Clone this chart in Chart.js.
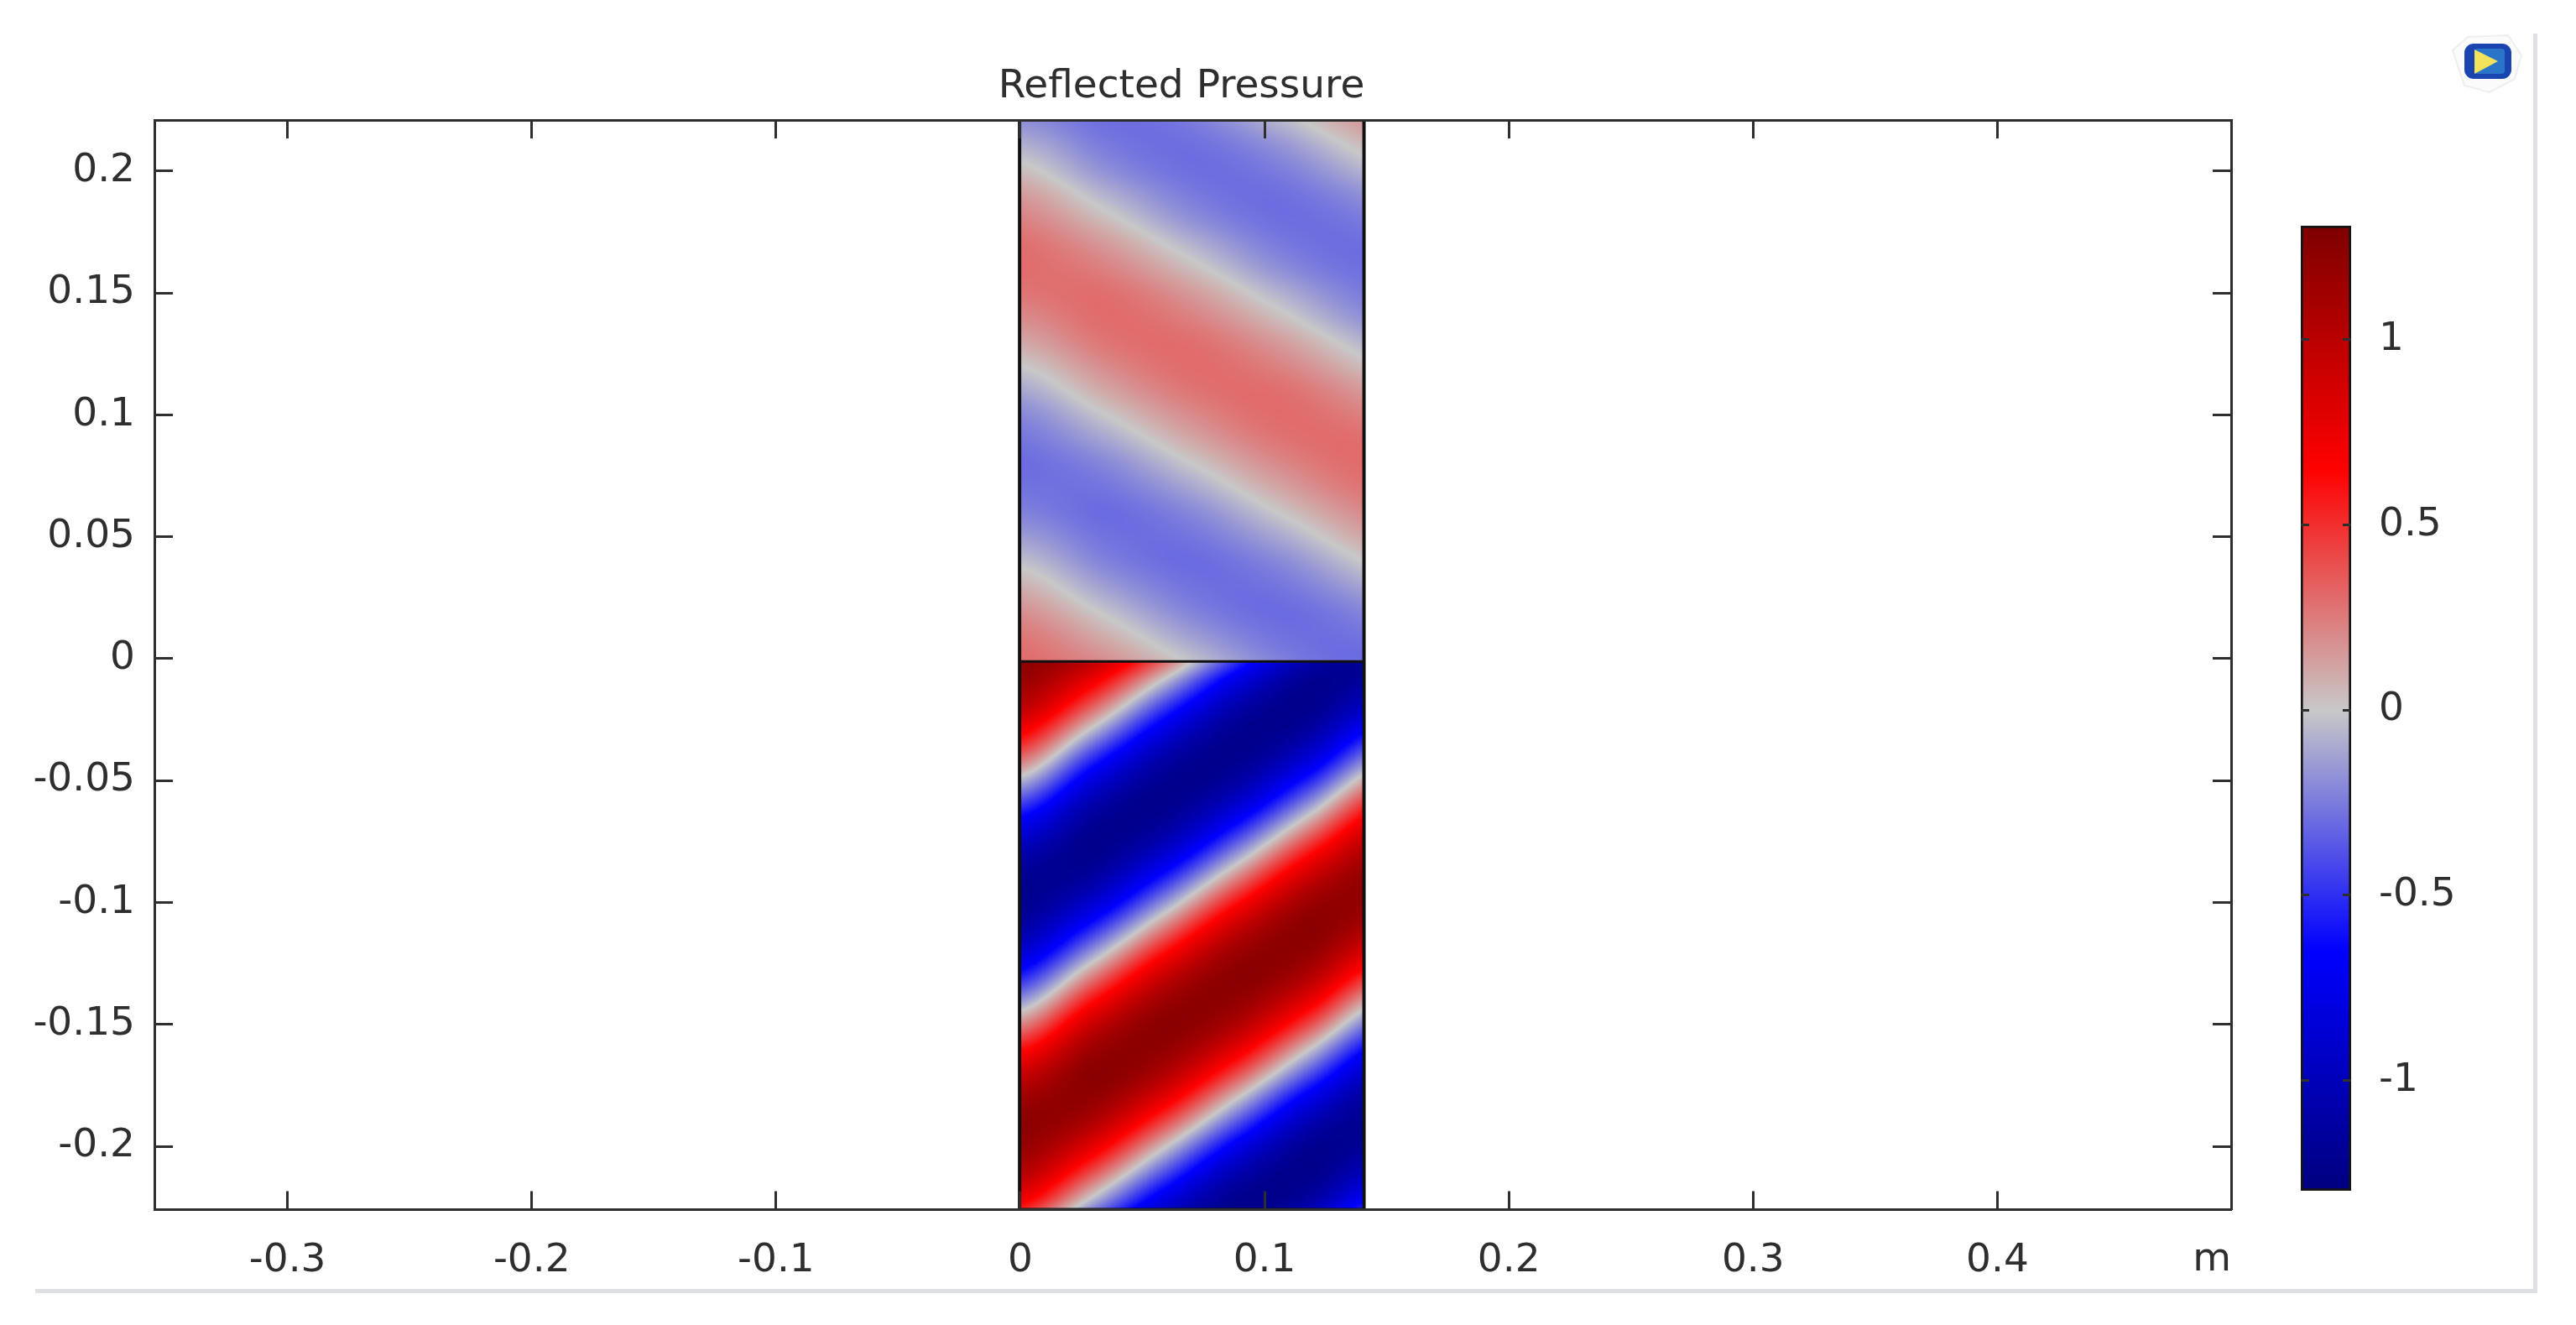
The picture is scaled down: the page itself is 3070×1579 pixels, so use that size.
<!DOCTYPE html>
<html><head><meta charset="utf-8">
<style>
html,body{margin:0;padding:0;background:#fff;width:3070px;height:1579px;overflow:hidden}
canvas{position:absolute;display:block}
#frame{position:absolute;left:42px;top:40px;width:2977px;height:1496px;border-right:5px solid #dfe1e5;border-bottom:5px solid #dfe1e5;box-sizing:content-box}
#icon{position:absolute;left:2919px;top:36px;width:90px;height:80px}
</style>
<script src="https://cdn.jsdelivr.net/npm/chart.js@4"></script>
</head><body>
<div id="frame"></div>
<svg id="icon" viewBox="0 0 90 80">
<path d="M4 24 L22 8 L70 6 L86 30 L78 58 L48 74 L18 66 Z" fill="#fbfbfb" stroke="#eceef0" stroke-width="2"/>
<rect x="18" y="16" width="56" height="42" rx="11" fill="#1a45b0"/>
<rect x="30" y="22" width="36" height="30" rx="4" fill="#2a74c9"/>
<path d="M30 23 L58 37 L30 52 Z" fill="#f2e35a"/>
</svg>
<canvas id="main" width="3070" height="1579" style="left:0;top:0;width:3070px;height:1579px"></canvas>
<canvas id="bar" width="300" height="1220" style="left:2700px;top:240px;width:300px;height:1220px"></canvas>
<script>
const titleText = 'Reflected Pressure';
const unitLabel = 'm';
const xTicks = [-0.3,-0.2,-0.1,0,0.1,0.2,0.3,0.4];
const yTicks = [-0.2,-0.15,-0.1,-0.05,0,0.05,0.1,0.15,0.2];
const barTicks = [-1,-0.5,0,0.5,1];
const xRange = [-0.3545,0.4957];
const yRange = [-0.2259,0.2209];
const barRange = [-1.298,1.308];
const domainX = [-0.0003,0.1407];
const domainY = [-0.2259,-0.0011,0.2209];
const colorValues = [-1.3,-0.65,0,0.65,1.3];
const colorStops = [[0,0,127],[0,0,255],[200,200,200],[255,0,0],[127,0,0]];

const upperColumns = [0,0.0351,0.0702,0.1053,0.1404,0.1755];
const upperRows = [0.23,0.22,0.21,0.2,0.19,0.18,0.17,0.16,0.15,0.14,0.13,0.12,0.11,0.1,0.09,0.08,0.07,0.06,0.05,0.04,0.03,0.02,0.01,0,-0.01];
const upperValues = [
[-.25,-.29,-.18,.04,.23,.30],
[-.18,-.29,-.25,-.07,.15,.29],
[-.07,-.25,-.29,-.18,.04,.23],
[.04,-.18,-.29,-.25,-.07,.15],
[.15,-.07,-.25,-.29,-.18,.04],
[.23,.04,-.18,-.29,-.25,-.07],
[.29,.15,-.07,-.25,-.29,-.18],
[.30,.23,.04,-.18,-.29,-.25],
[.27,.29,.15,-.07,-.25,-.29],
[.20,.30,.23,.04,-.18,-.29],
[.11,.27,.29,.15,-.07,-.25],
[0,.20,.30,.23,.04,-.18],
[-.11,.11,.27,.29,.15,-.07],
[-.21,0,.20,.30,.23,.04],
[-.27,-.11,.11,.27,.29,.15],
[-.30,-.21,0,.20,.30,.23],
[-.28,-.27,-.11,.11,.27,.29],
[-.23,-.30,-.21,0,.20,.30],
[-.14,-.28,-.27,-.11,.11,.27],
[-.03,-.23,-.30,-.21,0,.20],
[.08,-.14,-.28,-.27,-.11,.11],
[.18,-.03,-.23,-.30,-.21,0],
[.26,.08,-.14,-.28,-.27,-.11],
[.30,.18,-.03,-.23,-.30,-.21],
[.29,.26,.08,-.14,-.28,-.27]];

const lowerColumns = [0,0.0294,0.0588,0.0882,0.1176,0.147];
const lowerRows = [0,-0.01,-0.02,-0.03,-0.04,-0.05,-0.06,-0.07,-0.08,-0.09,-0.1,-0.11,-0.12,-0.13,-0.14,-0.15,-0.16,-0.17,-0.18,-0.19,-0.2,-0.21,-0.22,-0.23];
const lowerValues = [
[1.24,.99,.33,-.47,-1.07,-1.23],
[1.17,.69,-.07,-.81,-1.21,-1.12],
[.99,.33,-.47,-1.07,-1.23,-.89],
[.69,-.07,-.81,-1.21,-1.12,-.56],
[.33,-.47,-1.07,-1.23,-.89,-.18],
[-.07,-.81,-1.21,-1.12,-.56,.22],
[-.47,-1.07,-1.23,-.89,-.18,.60],
[-.81,-1.21,-1.12,-.56,.22,.92],
[-1.07,-1.23,-.89,-.18,.60,1.14],
[-1.21,-1.12,-.56,.22,.92,1.24],
[-1.23,-.89,-.18,.60,1.14,1.20],
[-1.12,-.56,.22,.92,1.24,1.05],
[-.89,-.18,.60,1.14,1.20,.78],
[-.56,.22,.92,1.24,1.05,.43],
[-.18,.60,1.14,1.20,.78,.03],
[.22,.92,1.24,1.05,.43,-.36],
[.60,1.14,1.20,.78,.03,-.73],
[.92,1.24,1.05,.43,-.36,-1.02],
[1.14,1.20,.78,.03,-.73,-1.20],
[1.24,1.05,.43,-.36,-1.02,-1.24],
[1.20,.78,.03,-.73,-1.20,-1.16],
[1.05,.43,-.36,-1.02,-1.24,-.96],
[.78,.03,-.73,-1.20,-1.16,-.66],
[.43,-.36,-1.02,-1.24,-.96,-.28]];

const FONT = {family:'"DejaVu Sans"',size:47};
const INK = '#2e2e2e';

function colorOf(v){
  const n = colorValues.length;
  if(v<=colorValues[0]) return colorStops[0];
  if(v>=colorValues[n-1]) return colorStops[n-1];
  let i=0; while(v>colorValues[i+1]) i++;
  const t=(v-colorValues[i])/(colorValues[i+1]-colorValues[i]);
  return colorStops[i].map((c,k)=>c+(colorStops[i+1][k]-c)*t);
}
function cubic(a,b,c,d,t){
  return b+0.5*t*(c-a+t*(2*a-5*b+4*c-d+t*(3*(b-c)+d-a)));
}
function sampleAt(cols,rows,vals,x,y){
  let c=0; while(c<cols.length-2 && x>cols[c+1]) c++;
  let r=0; while(r<rows.length-2 && y<rows[r+1]) r++;
  const tx=(x-cols[c])/(cols[c+1]-cols[c]), ty=(y-rows[r])/(rows[r+1]-rows[r]);
  const cl=(i,n)=>Math.max(0,Math.min(n-1,i));
  const at=[-1,0,1,2].map(dr=>{
    const row=vals[cl(r+dr,rows.length)];
    return cubic(row[cl(c-1,cols.length)],row[c],row[c+1],row[cl(c+2,cols.length)],tx);
  });
  return cubic(at[0],at[1],at[2],at[3],ty);
}
function gridPoints(cols,rows,vals){
  const pts=[];
  rows.forEach((y,r)=>cols.forEach((x,c)=>pts.push({x,y,v:vals[r][c]})));
  return pts;
}
function shade(chart,cols,rows,vals,x0,x1,y0,y1){
  const sx=chart.scales.x, sy=chart.scales.y;
  const px0=Math.round(sx.getPixelForValue(x0)), px1=Math.round(sx.getPixelForValue(x1));
  const py0=Math.round(sy.getPixelForValue(y1)), py1=Math.round(sy.getPixelForValue(y0));
  const w=px1-px0,h=py1-py0;
  const img=chart.ctx.createImageData(w,h);
  for(let j=0;j<h;j++){
    const yv=sy.getValueForPixel(py0+j+.5);
    for(let i=0;i<w;i++){
      const xv=sx.getValueForPixel(px0+i+.5);
      const col=colorOf(sampleAt(cols,rows,vals,xv,yv));
      const o=(j*w+i)*4;
      img.data[o]=col[0];img.data[o+1]=col[1];img.data[o+2]=col[2];img.data[o+3]=255;
    }
  }
  chart.ctx.putImageData(img,px0,py0);
}
const fieldPlugin = {
  id:'field',
  beforeDatasetsDraw(chart){
    shade(chart,upperColumns,upperRows,upperValues,domainX[0],domainX[1],domainY[1],domainY[2]);
    shade(chart,lowerColumns,lowerRows,lowerValues,domainX[0],domainX[1],domainY[0],domainY[1]);
  }
};
function fixedTicks(list){ return s=>{ s.ticks=list.map(v=>({value:v,label:String(v)})); }; }
function gridOpts(len){ return {drawOnChartArea:false,drawTicks:true,tickLength:len,tickWidth:3,tickColor:INK,z:1}; }
const borderOpts = {display:true,width:3,color:INK,z:1};

new Chart(document.getElementById('main'),{
  type:'scatter',
  plugins:[fieldPlugin],
  data:{datasets:[
    {label:'upper',data:gridPoints(upperColumns,upperRows,upperValues),pointRadius:0,showLine:false},
    {label:'lower',data:gridPoints(lowerColumns,lowerRows,lowerValues),pointRadius:0,showLine:false},
    {label:'outline',showLine:true,pointRadius:0,borderColor:'#111',borderWidth:4,backgroundColor:'transparent',
     data:[{x:domainX[0],y:domainY[2]},{x:domainX[0],y:domainY[0]},{x:domainX[1],y:domainY[0]},{x:domainX[1],y:domainY[2]},{x:domainX[0],y:domainY[2]}]},
    {label:'seam',showLine:true,pointRadius:0,borderColor:'#111',borderWidth:3,backgroundColor:'transparent',
     data:[{x:domainX[0],y:domainY[1]},{x:domainX[1],y:domainY[1]}]}
  ]},
  options:{
    responsive:false,animation:false,devicePixelRatio:1,
    layout:{padding:{left:0,right:254,top:0,bottom:0}},
    plugins:{
      legend:{display:false},tooltip:{enabled:false},
      title:{display:true,text:titleText,color:INK,font:{...FONT,weight:'normal'},padding:{top:76,bottom:10.6}}
    },
    scales:{
      x:{type:'linear',position:'bottom',min:xRange[0],max:xRange[1],
         afterBuildTicks:fixedTicks(xTicks),afterFit:s=>{s.height=137.5;},
         grid:gridOpts(-22),border:borderOpts,
         title:{display:true,text:unitLabel,align:'end',color:INK,font:FONT,padding:{top:0,bottom:49}},
         ticks:{color:INK,font:FONT,padding:55,maxRotation:0,autoSkip:false,callback:v=>String(v)}},
      x2:{type:'linear',position:'top',min:xRange[0],max:xRange[1],
         afterBuildTicks:fixedTicks(xTicks),afterFit:s=>{s.height=0;},
         grid:gridOpts(-22),border:borderOpts,ticks:{display:false}},
      y:{type:'linear',position:'left',min:yRange[0],max:yRange[1],
         afterBuildTicks:fixedTicks(yTicks),afterFit:s=>{s.width=184;},
         grid:gridOpts(-22),border:borderOpts,
         ticks:{color:INK,font:FONT,padding:45,autoSkip:false,callback:v=>String(v)}},
      y2:{type:'linear',position:'right',min:yRange[0],max:yRange[1],
         afterBuildTicks:fixedTicks(yTicks),afterFit:s=>{s.width=157;},
         grid:gridOpts(-22),border:borderOpts,ticks:{display:false}}
    }
  }
});

function barGradient(c){
  const chart=c.chart;
  if(!chart.chartArea) return '#888';
  const s=chart.scales.y;
  const g=chart.ctx.createLinearGradient(0,s.getPixelForValue(barRange[1]),0,s.getPixelForValue(barRange[0]));
  const span=barRange[1]-barRange[0];
  colorValues.forEach((v,i)=>{
    const p=Math.min(1,Math.max(0,(barRange[1]-v)/span));
    g.addColorStop(p,'rgb('+colorStops[i].join(',')+')');
  });
  g.addColorStop(0,'rgb('+colorOf(barRange[1]).map(Math.round).join(',')+')');
  g.addColorStop(1,'rgb('+colorOf(barRange[0]).map(Math.round).join(',')+')');
  return g;
}
function noPad(w){ return s=>{ s.width=w; s.paddingTop=0; s.paddingBottom=0; }; }
new Chart(document.getElementById('bar'),{
  type:'bar',
  data:{labels:['p'],datasets:[{data:[barRange],backgroundColor:barGradient,borderColor:'#141414',borderWidth:3,borderSkipped:false,barPercentage:1,categoryPercentage:1,yAxisID:'y'}]},
  options:{
    responsive:false,animation:false,devicePixelRatio:1,
    layout:{padding:{left:0,right:0,top:29,bottom:41}},
    plugins:{legend:{display:false},tooltip:{enabled:false}},
    scales:{
      x:{display:false},
      y:{type:'linear',position:'right',min:barRange[0],max:barRange[1],
         afterBuildTicks:fixedTicks(barTicks),afterFit:noPad(198),
         grid:gridOpts(-10),border:{display:false},
         ticks:{color:INK,font:FONT,padding:43,autoSkip:false,callback:v=>String(v)}},
      y3:{type:'linear',position:'left',min:barRange[0],max:barRange[1],
         afterBuildTicks:fixedTicks(barTicks),afterFit:noPad(42),
         grid:gridOpts(-10),border:{display:false},ticks:{display:false}}
    }
  }
});
</script>
</body></html>
